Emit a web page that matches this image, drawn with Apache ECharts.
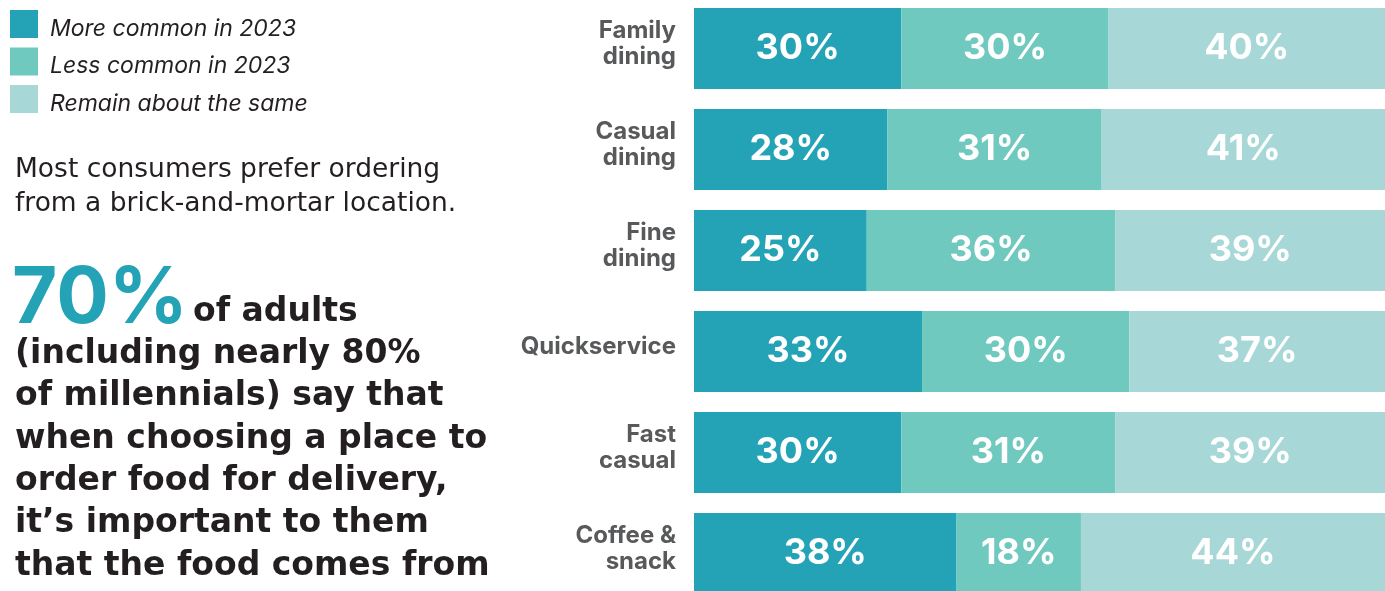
<!DOCTYPE html>
<html><head><meta charset="utf-8">
<script src="https://cdn.jsdelivr.net/npm/echarts@6/dist/echarts.min.js"></script>
<style>html,body{margin:0;padding:0;background:#fff}#c{width:1385px;height:591px}</style>
</head><body><div id="c"></div>
<script>
const categories = ['Family\ndining', 'Casual\ndining', 'Fine\ndining', 'Quickservice', 'Fast\ncasual', 'Coffee &\nsnack'];
const seriesNames = ['More common in 2023', 'Less common in 2023', 'Remain about the same'];
const moreCommon = [30, 28, 25, 33, 30, 38];
const lessCommon = [30, 31, 36, 30, 31, 18];
const remainSame = [40, 41, 39, 37, 39, 44];
const colors = ['#24A3B7', '#70C9BF', '#A8D7D7'];

const introLines = ['Most consumers prefer ordering', 'from a brick-and-mortar location.'];
const bodyLines = ['(including nearly 80%', 'of millennials) say that', 'when choosing a place to', 'order food for delivery,', 'it\u2019s important to them', 'that the food comes from'];

const chart = echarts.init(document.getElementById('c'));
const FONT = 'Inter, "Open Sans", sans-serif';
const DV = '"DejaVu Sans", sans-serif';
const mk = (name, data, i) => ({
  name, type: 'bar', stack: 'all', data, barWidth: 81,
  itemStyle: { color: colors[i] },
  label: { show: true, position: 'inside', formatter: '{c}%', color: '#fff', fontSize: 36, fontWeight: 'bold', fontFamily: FONT },
  emphasis: { disabled: true }
});
const graphics = [
  { type: 'text', x: 12, y: 300, style: { text: '70%', font: '700 78px ' + FONT, fill: '#24A3B7', verticalAlign: 'middle' } },
  { type: 'text', x: 193, y: 312, style: { text: 'of adults', font: '700 33px ' + DV, fill: '#231F20', verticalAlign: 'middle' } }
];
introLines.forEach((t, k) => graphics.push({ type: 'text', x: 15, y: 170 + k * 34.5, style: { text: t, font: '400 26.5px ' + DV, fill: '#231F20', verticalAlign: 'middle' } }));
bodyLines.forEach((t, k) => graphics.push({ type: 'text', x: 15, y: 354.3 + k * 42.33, style: { text: t, font: '700 33px ' + DV, fill: '#231F20', verticalAlign: 'middle' } }));

chart.setOption({
  animation: false,
  legend: {
    orient: 'vertical', left: 10, top: 10, padding: 0, itemWidth: 28, itemHeight: 28, itemGap: 7,
    icon: 'rect', data: seriesNames, selectedMode: false,
    formatter: n => '{s| }\n{a|' + n + '}',
    textStyle: {
      rich: {
        s: { fontSize: 1, lineHeight: 10 },
        a: { fontFamily: FONT, fontStyle: 'italic', fontSize: 23, color: '#231F20', lineHeight: 18, padding: [0, 0, 0, 7] }
      }
    }
  },
  grid: { left: 694, right: 0, top: -2, height: 606, containLabel: false, outerBoundsMode: 'none' },
  xAxis: { type: 'value', min: 0, max: 100, show: false },
  yAxis: {
    type: 'category', data: categories, inverse: true,
    axisLine: { show: false }, axisTick: { show: false },
    axisLabel: {
      margin: 18, align: 'right',
      formatter: v => v.split('\n').map(l => '{a|' + l + '}').join('\n') + '\n{s| }',
      rich: {
        a: { color: '#58595B', fontSize: 24, fontWeight: 'bold', fontFamily: FONT, lineHeight: 26, align: 'right' },
        s: { fontSize: 1, lineHeight: 9 }
      }
    }
  },
  graphic: graphics,
  series: [mk(seriesNames[0], moreCommon, 0), mk(seriesNames[1], lessCommon, 1), mk(seriesNames[2], remainSame, 2)]
});
</script></body></html>
